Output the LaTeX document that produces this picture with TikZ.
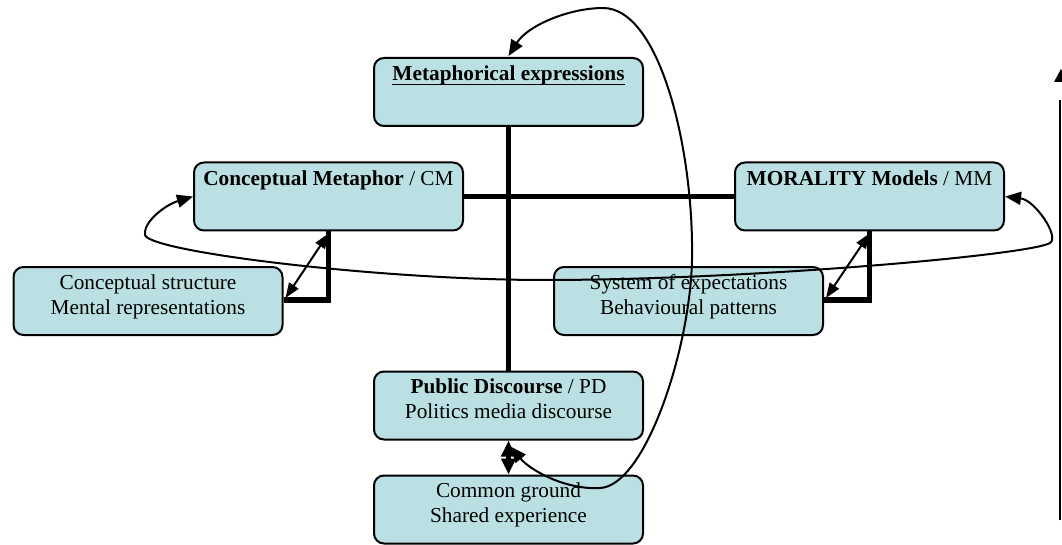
\documentclass[tikz,border=0pt]{standalone}
\usepackage{fontspec}
\setmainfont{Liberation Serif}
\usetikzlibrary{arrows.meta,calc}
\definecolor{boxfill}{RGB}{186,224,227}
\begin{document}
\begin{tikzpicture}[x=1pt,y=-1pt,
  box/.style={draw=black, line width=2pt, fill=boxfill, rounded corners=10pt,
    minimum width=269pt, minimum height=68pt, inner sep=0pt},
  lbl/.style={inner sep=0pt, anchor=base, font=\fontsize{21.3}{25}\selectfont},
  link/.style={line width=5.5pt, line join=miter},
  curve/.style={line width=2pt, {Triangle[length=16pt,width=13pt]}-{Triangle[length=16pt,width=13pt]}},
  dbl/.style={line width=2pt, {Triangle[length=15pt,width=11pt]}-{Triangle[length=15pt,width=11pt]}}
]
\useasboundingbox (0,0) rectangle (1062,545);
\clip (0,0) rectangle (1062,545);

% boxes
\node[box] (me) at (508.5,92) {};
\node[box] (cm) at (328.5,196.5) {};
\node[box] (mm) at (869.5,196.5) {};
\node[box] (cs) at (148,301) {};
\node[box] (se) at (688.5,301) {};
\node[box] (pd) at (508.5,405.5) {};
\node[box] (cg) at (508.5,509.5) {};

% box texts
\node[lbl] (me-t) at ([yshift=-24pt]me.north) {\textbf{Metaphorical expressions}};
\draw[line width=1.4pt] ([yshift=-3.5pt]me-t.base west) -- ([yshift=-3.5pt]me-t.base east);
\node[lbl] (cm-t) at ([yshift=-24pt]cm.north) {\textbf{Conceptual Metaphor} / CM};
\node[lbl] (mm-t) at ([yshift=-24pt]mm.north) {\textbf{MORALITY Models} / MM};
\node[lbl] (cs-t) at ([yshift=-23.5pt]cs.north) {\begin{tabular}[t]{@{}c@{}}Conceptual structure\\Mental representations\end{tabular}};
\node[lbl] (se-t) at ([yshift=-23.5pt]se.north) {\begin{tabular}[t]{@{}c@{}}System of expectations\\Behavioural patterns\end{tabular}};
\node[lbl] (pd-t) at ([yshift=-22.5pt]pd.north) {\begin{tabular}[t]{@{}c@{}}\textbf{Public Discourse} / PD\\Politics media discourse\end{tabular}};
\node[lbl] (cg-t) at ([yshift=-23pt]cg.north) {\begin{tabular}[t]{@{}c@{}}Common ground\\Shared experience\end{tabular}};

% thick links
\draw[link] (me.south) -- (pd.north);
\draw[link] (cm.east) -- (mm.west);
\draw[link] (cm.south) |- ($(cs.east)+(0,-1)$);
\draw[link] (mm.south) |- ($(se.east)+(0,-1)$);

% thin double arrows inside the L brackets
\draw[dbl] ($(cs.east)+(2,-3)$) -- ($(cm.south)+(0,2)$);
\draw[dbl] ($(se.east)+(2,-3)$) -- ($(mm.south)+(0,2)$);

% public discourse <-> common ground
\draw[line width=5pt, {Triangle[length=16pt,width=14pt]}-{Triangle[length=16pt,width=14pt]}] (pd.south) -- (cg.north);

% long curve from conceptual metaphor round to morality models
\draw[curve] (cm.west) .. controls (165,205) and (143,222) .. (145,235)
  .. controls (150,252) and (380,280) .. (545,280)
  .. controls (750,280) and (1030,255) .. (1050,243)
  .. controls (1060,237) and (1035,200) .. (mm.east);

% loop from public discourse up to metaphorical expressions
\coordinate (loopA) at ($(pd.south)+(2,6)$);
\coordinate (loopB) at ($(me.north)+(0,-1)$);
\draw[curve] (loopA) .. controls (530,470) and (565,490) .. (600,488)
  .. controls (645,486) and (690,350) .. (692,260)
  .. controls (694,150) and (660,8) .. (603,8)
  .. controls (570,8) and (528,25) .. (loopB);

% arrow along the right edge
\coordinate (edgeTop) at (1060,100);
\coordinate (edgeBot) at (1060,520);
\draw[line width=2.5pt] (edgeBot) -- (edgeTop);
\fill (1061,69) -- (1068,82) -- (1054,82) -- cycle;
\end{tikzpicture}
\end{document}
